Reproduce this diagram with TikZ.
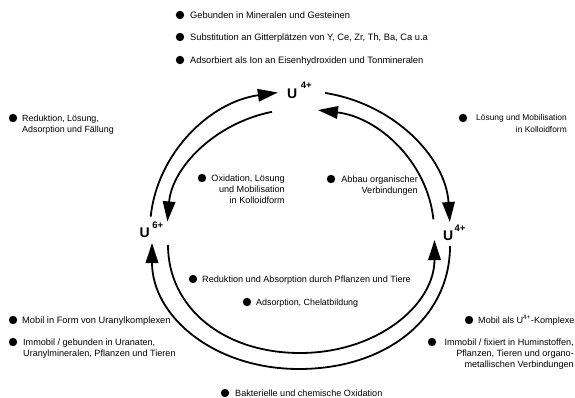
\documentclass[tikz,border=0pt]{standalone}
\usepackage{fontspec}
\setmainfont{Liberation Sans}
\usetikzlibrary{arrows.meta}
\newcommand{\fsz}[1]{\fontsize{#1}{11.2}\selectfont}
\newcommand{\usup}[2]{\raisebox{#1}{\fontsize{9.5}{9.5}\selectfont #2}}
\begin{document}
\begin{tikzpicture}[x=1pt,y=1pt,
  txt/.style={inner sep=0pt, font=\fsz{9.1}},
  dot/.style={circle, fill=black, inner sep=0pt, minimum size=8.4pt},
  ulab/.style={inner sep=0pt, anchor=base west, font=\bfseries\fontsize{14}{14}\selectfont},
  flow/.style={line width=1.8pt, -{Triangle[length=20pt,width=12.5pt]}}]
\useasboundingbox (0,0) rectangle (575,-398);

% species labels
\node[ulab] (u4t) at (287,-99) {U\kern3.5pt\usup{10pt}{4+}};
\node[ulab] (u6) at (139.5,-237) {U\kern2.5pt\usup{9pt}{6+}};
\node[ulab] (u4r) at (443,-240.5) {U\kern1.2pt\usup{9.5pt}{4+}};

% connector end points
\coordinate (a1s) at (150.69,-216.68);
\coordinate (a1e) at (277.83,-92.53);
\coordinate (a2s) at (272.06,-111.81);
\coordinate (a2e) at (167.41,-221.42);
\coordinate (a3s) at (325.02,-92.95);
\coordinate (a3e) at (449.75,-222.0);
\coordinate (a4s) at (433.39,-219.31);
\coordinate (a4e) at (317.92,-110.05);
\coordinate (Ro) at (450,-246);
\coordinate (Bo) at (299,-369);
\coordinate (Lo) at (152,-243);
\coordinate (Li) at (168,-245);
\coordinate (Bi) at (300,-353);
\coordinate (Ri) at (434.5,-240);

% upper arcs
\draw[flow] (a1s) .. controls (157.29,-153.16) and (209.72,-101.96) .. (a1e);
\draw[flow] (a2s) .. controls (214.55,-123.27) and (172.03,-167.80) .. (a2e);
\draw[flow] (a3s) .. controls (393.99,-103.76) and (445.72,-157.30) .. (a3e);
\draw[flow] (a4s) .. controls (427.43,-162.77) and (379.54,-117.46) .. (a4e);

% lower curves
\draw[flow] (Ro) .. controls (450,-317.8) and (386.6,-369) .. (Bo)
  .. controls (213.7,-369) and (152,-316.1) .. (Lo);
\draw[flow] (Li) .. controls (168,-307.6) and (223.4,-353) .. (Bi)
  .. controls (377.1,-353) and (434.5,-305) .. (Ri);

% bullets
\node[dot] (d1) at (180,-15) {};
\node[dot] (d2) at (180,-37) {};
\node[dot] (d3) at (180,-60) {};
\node[dot] (d4) at (13,-118) {};
\node[dot] (d5) at (463,-118) {};
\node[dot] (d6) at (202,-178) {};
\node[dot] (d7) at (331,-179) {};
\node[dot] (d8) at (193,-279) {};
\node[dot] (d9) at (247,-302) {};
\node[dot] (d10) at (225,-393) {};
\node[dot] (d11) at (13,-320) {};
\node[dot] (d12) at (13,-342) {};
\node[dot] (d13) at (469,-320) {};
\node[dot] (d14) at (432,-342) {};

% texts
\node[txt, font=\fsz{9.3}, anchor=base west] (t1) at (190,-18.4) {Gebunden in Mineralen und Gesteinen};
\node[txt, font=\fsz{9.3}, anchor=base west] (t2) at (190,-40.4) {Substitution an Gitterplätzen von Y, Ce, Zr, Th, Ba, Ca u.a};
\node[txt, font=\fsz{9.3}, anchor=base west] (t3) at (190,-63.4) {Adsorbiert als Ion an Eisenhydroxiden und Tonmineralen};
\node[txt, font=\fsz{8.9}, anchor=north west, align=left] (t4) at (22,-114.6) {Reduktion, Lösung,\\Adsorption und Fällung};
\node[txt, font=\fsz{8.4}, anchor=north east, align=right] (t5) at (567,-114.6) {Lösung und Mobilisation\\in Kolloidform};
\node[txt, anchor=north east, align=right] (t6) at (285,-174.6) {Oxidation, Lösung\\und Mobilisation\\in Kolloidform};
\node[txt, anchor=north east, align=right] (t7) at (418,-175.6) {Abbau organischer\\Verbindungen};
\node[txt, anchor=base west] (t8) at (202,-282.4) {Reduktion und Absorption durch Pflanzen und Tiere};
\node[txt, font=\fsz{8.9}, anchor=base west] (t9) at (256,-305.4) {Adsorption, Chelatbildung};
\node[txt, anchor=base west] (t10) at (235,-396.4) {Bakterielle und chemische Oxidation};
\node[txt, font=\fsz{9.3}, anchor=base west] (t11) at (22,-323.4) {Mobil in Form von Uranylkomplexen};
\node[txt, anchor=north west, align=left] (t12) at (23,-338.6) {Immobil / gebunden in Uranaten,\\Uranylmineralen, Pflanzen und Tieren};
\node[txt, anchor=base west] (t13) at (478,-323.4) {Mobil als U\textsuperscript{4+}-Komplexe};
\node[txt, anchor=north east, align=right] (t14) at (574,-338.6) {Immobil / fixiert in Huminstoffen,\\Pflanzen, Tieren und organo-\\metallischen Verbindungen};
\end{tikzpicture}
\end{document}
